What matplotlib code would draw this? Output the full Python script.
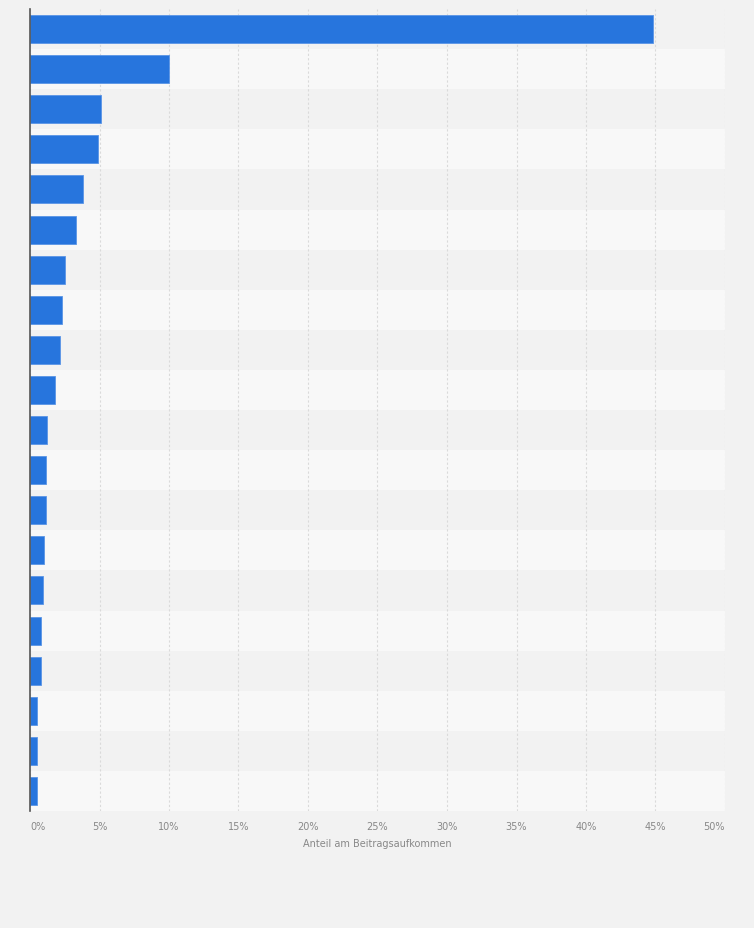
import matplotlib
matplotlib.use("Agg")
import matplotlib.pyplot as plt
from matplotlib.ticker import FuncFormatter
import numpy as np

values = [44.8, 10.0, 5.1, 4.9, 3.8, 3.3, 2.5, 2.3, 2.15, 1.8,
          1.2, 1.15, 1.15, 1.0, 0.95, 0.8, 0.8, 0.5, 0.5, 0.5]
xticks = [0, 5, 10, 15, 20, 25, 30, 35, 40, 45, 50]
xlabel = "Anteil am Beitragsaufkommen"

bg = "#f2f2f2"
band = "#f8f8f8"
bar_color = "#2775dd"

fig = plt.figure(figsize=(7.54, 9.29), dpi=100, facecolor=bg)
ax = fig.add_axes([30/754, 1-812/929, 695/754, 802/929])
ax.set_facecolor(bg)

n = len(values)
y = np.arange(n)
for i in range(n):
    if i % 2 == 1:
        ax.axhspan(i - 0.5, i + 0.5, color=band, zorder=0, lw=0)

ax.barh(y, values, height=0.7, color=bar_color, edgecolor="#5a95e6", linewidth=0.6, zorder=3)
ax.set_ylim(n - 0.5, -0.5)
ax.set_xlim(0, 50)
ax.set_xticks(xticks)
ax.xaxis.set_major_formatter(FuncFormatter(lambda v, p: f"{int(v)}%"))
ax.tick_params(axis="x", length=0, labelsize=7, labelcolor="#888888", pad=7)
labels = ax.get_xticklabels()
labels[0].set_horizontalalignment("left")
labels[-1].set_horizontalalignment("right")
ax.set_yticks([])
ax.grid(axis="x", color="#dadada", linestyle=(0, (2, 2)), linewidth=0.8, zorder=1)
for s in ["top", "right", "bottom"]:
    ax.spines[s].set_visible(False)
ax.spines["left"].set_color("#555555")
ax.spines["left"].set_linewidth(1.2)
ax.spines["left"].set_zorder(4)
ax.set_xlabel(xlabel, fontsize=7, color="#888888", labelpad=5)

fig.savefig("out.png", dpi=100, facecolor=bg)
